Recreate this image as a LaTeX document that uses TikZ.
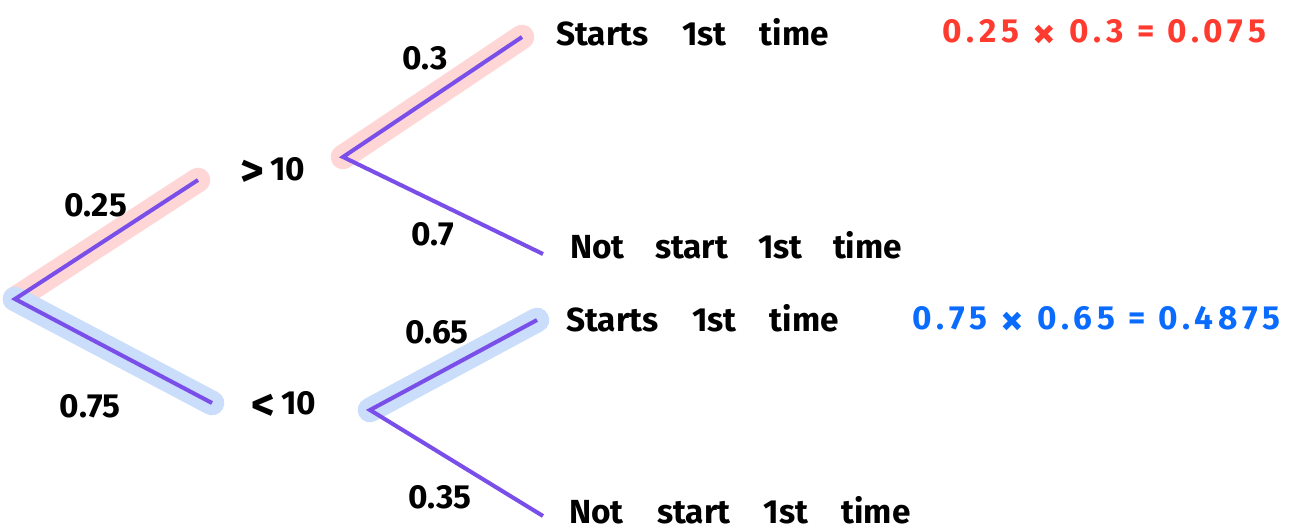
\documentclass[tikz,border=0pt]{standalone}
\usepackage{xcolor}
\usepackage{tikz}
\usepackage{fontspec}
\setsansfont{Fira Sans}
\newfontfamily\spacedsans[LetterSpace=15]{Fira Sans}

\definecolor{branchpurple}{RGB}{122,78,232}
\definecolor{hlpink}{RGB}{255,214,214}
\definecolor{hlblue}{RGB}{202,221,250}
\definecolor{prodred}{RGB}{255,59,48}
\definecolor{prodblue}{RGB}{10,108,255}

\newcommand{\bigsym}[1]{\raisebox{-3pt}{\fontsize{26}{26}\selectfont #1}}

\tikzset{
  branch/.style={draw=branchpurple, line width=2.3pt},
  glow/.style={line width=14pt, line cap=round, line join=round},
  lbl/.style={font=\fontsize{19}{22}\selectfont\sffamily\bfseries, inner sep=0pt},
  leaf/.style={lbl, anchor=west},
  product/.style={leaf, font=\fontsize{19}{22}\selectfont\spacedsans\bfseries}
}

\begin{document}
\begin{tikzpicture}[x=0.02cm, y=-0.02cm]
                \useasboundingbox (0,0) rectangle (1294,531);
                % Branch points of the tree
                \coordinate (root) at (15,299);
                \coordinate (over) at (198,180);
                \coordinate (under) at (212,403);
                \coordinate (overfork) at (343,157);
                \coordinate (underfork) at (370,410);
                \coordinate (ostart) at (522,37);
                \coordinate (onot) at (543,254);
                \coordinate (ustart) at (537,320);
                \coordinate (unot) at (543,516);
                % Highlighted paths
                \draw[glow, hlpink] (root) -- (over);
                \draw[glow, hlpink] (overfork) -- (ostart);
                \draw[glow, hlblue] (root) -- (under);
                \draw[glow, hlblue] (underfork) -- (ustart);
                % Branches
                \draw[branch] (over) -- (root) -- (under);
                \draw[branch] (ostart) -- (overfork) -- (onot);
                \draw[branch] (ustart) -- (underfork) -- (unot);
                % Labels
                \node[lbl] (p25) at (96,205) {0.25};
                \node[lbl] (p75) at (90,406) {0.75};
                \node[lbl] (gt) at (273,172) {\bigsym{>}\,10};
                \node[lbl] (lt) at (284,406) {\bigsym{<}\,10};
                \node[lbl] (p3) at (425,58) {0.3};
                \node[lbl] (p7) at (433,234) {0.7};
                \node[lbl] (p65) at (437,332) {0.65};
                \node[lbl] (p35) at (440,497) {0.35};
                \node[leaf] (s1) at (556,32) {Starts\quad 1st\quad time};
                \node[leaf] (n1) at (570,245) {Not\enskip\, start\enskip\, 1st\enskip\, time};
                \node[leaf] (s2) at (566,318) {Starts\quad 1st\quad time};
                \node[leaf] (n2) at (569,510) {Not\quad start\quad 1st\quad time};
                \node[product, text=prodred] (r1) at (942,34) {0.25 \bigsym{×} 0.3 = 0.075};
                \node[product, text=prodblue] (r2) at (912,321) {0.75 \bigsym{×} 0.65 = 0.4875};
            \end{tikzpicture}
\end{document}
